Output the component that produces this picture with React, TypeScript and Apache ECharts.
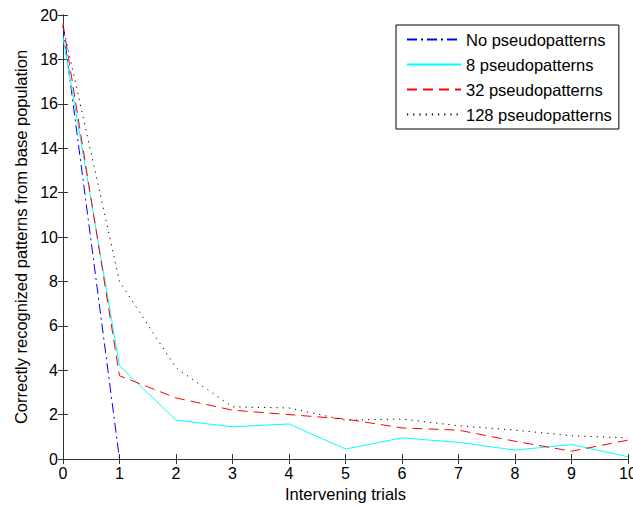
import React, { useEffect, useRef } from "react";
import * as echarts from "echarts";

const trials = [0, 1, 2, 3, 4, 5, 6, 7, 8, 9, 10];
const seriesNames = ["No pseudopatterns", "8 pseudopatterns", "32 pseudopatterns", "128 pseudopatterns"];
const noPseudo = [19.5, 0];
const pseudo8 = [19.0, 4.2, 1.75, 1.45, 1.58, 0.45, 0.95, 0.75, 0.4, 0.65, 0.1];
const pseudo32 = [19.6, 3.75, 2.75, 2.2, 2.0, 1.8, 1.4, 1.3, 0.8, 0.35, 0.85];
const pseudo128 = [19.5, 8.0, 4.1, 2.35, 2.3, 1.75, 1.8, 1.5, 1.3, 1.05, 0.95];

const xName = "Intervening trials";
const yName = "Correctly recognized patterns from base population";

const FONT = "Arial, 'Liberation Sans', Helvetica, sans-serif";
const AXIS_COLOR = "#333";

function pairs(vals: number[]) {
  return vals.map((v, i) => [trials[i], v]);
}

export default function App() {
  const ref = useRef<HTMLDivElement>(null);
  useEffect(() => {
    if (!ref.current) return;
    const chart = echarts.init(ref.current, undefined, { renderer: "svg" });
    const styles = [
      { color: "#0000ff", type: [10, 4, 2, 4] },
      { color: "#00ffff", type: "solid" },
      { color: "#ff0000", type: [10, 6] },
      { color: "#000000", type: [1.2, 5] },
    ];
    const datas = [noPseudo, pseudo8, pseudo32, pseudo128];
    chart.setOption({
      animation: false,
      backgroundColor: "#ffffff",
      textStyle: { fontFamily: FONT },
      grid: { left: 63, right: 5, top: 15, bottom: 48, outerBoundsMode: "none", containLabel: false },
      legend: {
        data: seriesNames,
        orient: "vertical",
        left: 396,
        top: 25,
        padding: [5, 7, 5, 10],
        itemWidth: 54,
        itemHeight: 14,
        itemGap: 6,
        backgroundColor: "#ffffff",
        borderColor: "#000",
        borderWidth: 1,
        borderRadius: 0,
        itemStyle: { opacity: 0 },
        textStyle: { fontSize: 16.5, lineHeight: 19, color: "#000", fontFamily: FONT },
      },
      xAxis: [
        {
          type: "value",
          min: 0,
          max: 10,
          interval: 1,
          name: xName,
          nameLocation: "middle",
          nameGap: 26,
          nameTextStyle: { fontSize: 16.5, color: "#000", fontFamily: FONT },
          axisLine: { show: true, lineStyle: { color: AXIS_COLOR, width: 1 } },
          axisTick: { show: true, inside: true, length: 5, lineStyle: { color: AXIS_COLOR } },
          axisLabel: {
            fontSize: 16,
            color: "#000",
            margin: 6,
            fontFamily: FONT,
            alignMinLabel: "center",
            alignMaxLabel: "center",
            hideOverlap: false,
          },
          splitLine: { show: false },
        },
        {
          type: "value",
          position: "top",
          min: 0,
          max: 10,
          interval: 1,
          axisLine: { show: true, lineStyle: { color: AXIS_COLOR, width: 1 } },
          axisTick: { show: true, inside: true, length: 5, lineStyle: { color: AXIS_COLOR } },
          axisLabel: { show: false },
          splitLine: { show: false },
        },
      ],
      yAxis: [
        {
          type: "value",
          min: 0,
          max: 20,
          interval: 2,
          name: yName,
          nameLocation: "middle",
          nameGap: 34,
          nameTextStyle: { fontSize: 16.5, color: "#000", fontFamily: FONT },
          axisLine: { show: true, lineStyle: { color: AXIS_COLOR, width: 1 } },
          axisTick: { show: true, inside: true, length: 5, lineStyle: { color: AXIS_COLOR } },
          axisLabel: { fontSize: 16, color: "#000", margin: 5, fontFamily: FONT },
          splitLine: { show: false },
        },
        {
          type: "value",
          position: "right",
          min: 0,
          max: 20,
          interval: 2,
          axisLine: { show: true, lineStyle: { color: AXIS_COLOR, width: 1 } },
          axisTick: { show: true, inside: true, length: 5, lineStyle: { color: AXIS_COLOR } },
          axisLabel: { show: false },
          splitLine: { show: false },
        },
      ],
      series: seriesNames.map((name, i) => ({
        name,
        type: "line",
        xAxisIndex: 0,
        yAxisIndex: 0,
        data: pairs(datas[i]),
        symbol: "none",
        showSymbol: false,
        color: styles[i].color,
        lineStyle: { color: styles[i].color, width: 1, type: styles[i].type },
        z: 2 + i,
      })),
    });
    return () => chart.dispose();
  }, []);
  return (
    <div
      ref={ref}
      style={{ position: "fixed", left: 0, top: 0, width: 633, height: 507 }}
    />
  );
}
